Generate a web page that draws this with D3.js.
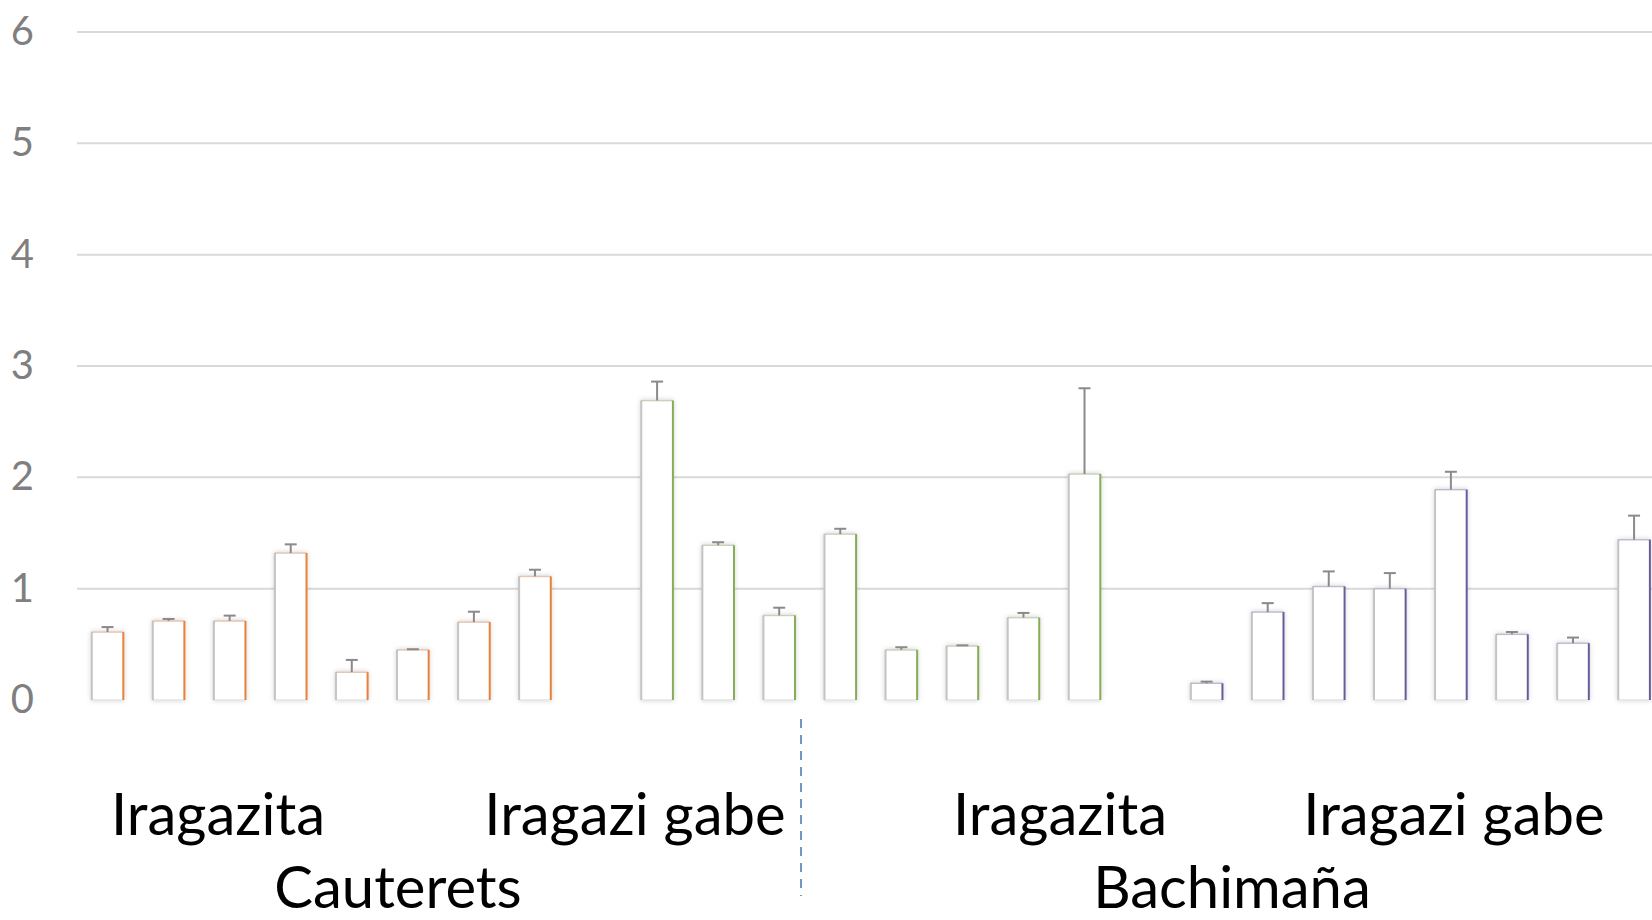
<!DOCTYPE html>
<html>
<head>
<meta charset="utf-8">
<script src="https://cdn.jsdelivr.net/npm/d3@7"></script>
<style>
  html, body { margin: 0; padding: 0; background: #ffffff; }
  svg { display: block; }
</style>
</head>
<body>
<svg id="chart" width="1652" height="920"></svg>
<script>
// ---- data ----
const slots = ["O1","O2","O3","O4","O5","O6","O7","O8","gap1",
               "G1","G2","G3","G4","G5","G6","G7","G8","gap2",
               "P1","P2","P3","P4","P5","P6","P7","P8"];
const orangeCats = ["O1","O2","O3","O4","O5","O6","O7","O8"];
const orangeMeans = [0.61, 0.71, 0.71, 1.32, 0.25, 0.45, 0.70, 1.11];
const orangeErr   = [0.045, 0.018, 0.048, 0.078, 0.11, 0.006, 0.093, 0.06];
const greenCats = ["G1","G2","G3","G4","G5","G6","G7","G8"];
const greenMeans = [2.69, 1.39, 0.76, 1.49, 0.45, 0.485, 0.74, 2.03];
const greenErr   = [0.17, 0.027, 0.069, 0.048, 0.024, 0.006, 0.042, 0.77];
const purpleCats = ["P1","P2","P3","P4","P5","P6","P7","P8"];
const purpleMeans = [0.15, 0.79, 1.02, 1.00, 1.89, 0.59, 0.51, 1.44];
const purpleErr   = [0.015, 0.08, 0.135, 0.14, 0.16, 0.021, 0.051, 0.216];
const yTicks = [0, 1, 2, 3, 4, 5, 6];
const treatmentLabels = ["Iragazita", "Iragazi gabe", "Iragazita", "Iragazi gabe"];
const siteLabels = ["Cauterets", "Bachimaña"];

const seriesColors = { orange: "#e8823a", green: "#86ad55", purple: "#6a5c9b" };

// ---- layout ----
const svg = d3.select("#chart");
const x = d3.scaleBand().domain(slots).range([77, 1664.6]).paddingInner(0.482).paddingOuter(0.241);
const y = d3.scaleLinear().domain([0, 6]).range([700, 32]);

const defs = svg.append("defs");
const f = defs.append("filter").attr("id", "glow").attr("x", "-40%").attr("y", "-40%").attr("width", "180%").attr("height", "180%");
f.append("feDropShadow").attr("dx", 0).attr("dy", 0).attr("stdDeviation", 2.5)
  .attr("flood-color", "#000").attr("flood-opacity", 0.18);

// gridlines (1..6)
svg.append("g").selectAll("line").data(yTicks.filter(d => d > 0)).join("line")
  .attr("x1", 77).attr("x2", 1652)
  .attr("y1", d => y(d)).attr("y2", d => y(d))
  .attr("stroke", "#d9d9d9").attr("stroke-width", 2);

// y tick labels
svg.append("g").selectAll("text").data(yTicks).join("text")
  .attr("x", 34).attr("y", d => y(d) - 2)
  .attr("text-anchor", "end").attr("dominant-baseline", "central")
  .attr("font-family", "Lato, sans-serif").attr("font-size", 40)
  .attr("fill", "#7f7f7f").text(d => d);

// bars
const series = [
  { cats: orangeCats, means: orangeMeans, errs: orangeErr, color: seriesColors.orange },
  { cats: greenCats, means: greenMeans, errs: greenErr, color: seriesColors.green },
  { cats: purpleCats, means: purpleMeans, errs: purpleErr, color: seriesColors.purple }
];
const bw = x.bandwidth();
series.forEach(s => {
  const data = s.cats.map((c, i) => ({ c, m: s.means[i], e: s.errs[i] }));
  const g = svg.append("g");
  const bar = g.selectAll("g").data(data).join("g");
  bar.append("rect")
    .attr("x", d => x(d.c)).attr("y", d => y(d.m))
    .attr("width", bw).attr("height", d => y(0) - y(d.m))
    .attr("fill", "#ffffff").attr("stroke", "#e4e4e4").attr("stroke-width", 1.5)
    .attr("filter", "url(#glow)");
  // left edge (gray)
  bar.append("line")
    .attr("x1", d => x(d.c)).attr("x2", d => x(d.c))
    .attr("y1", d => y(d.m)).attr("y2", y(0))
    .attr("stroke", "#c4c4c4").attr("stroke-width", 2);
  // top edge (light colour)
  bar.append("line")
    .attr("x1", d => x(d.c)).attr("x2", d => x(d.c) + bw)
    .attr("y1", d => y(d.m)).attr("y2", d => y(d.m))
    .attr("stroke", s.color).attr("stroke-opacity", 0.3).attr("stroke-width", 1.5);
  // right edge (colour)
  bar.append("line")
    .attr("x1", d => x(d.c) + bw).attr("x2", d => x(d.c) + bw)
    .attr("y1", d => y(d.m)).attr("y2", y(0))
    .attr("stroke", s.color).attr("stroke-width", 2);
  // error bars
  const cx = d => x(d.c) + bw / 2;
  bar.append("line")
    .attr("x1", cx).attr("x2", cx)
    .attr("y1", d => y(d.m)).attr("y2", d => y(d.m + d.e))
    .attr("stroke", "#8a8a8a").attr("stroke-width", 2);
  bar.append("line")
    .attr("x1", d => cx(d) - 6).attr("x2", d => cx(d) + 6)
    .attr("y1", d => y(d.m + d.e)).attr("y2", d => y(d.m + d.e))
    .attr("stroke", "#8a8a8a").attr("stroke-width", 2);
});

// dashed separator
svg.append("line")
  .attr("x1", 801).attr("x2", 801).attr("y1", 719).attr("y2", 896)
  .attr("stroke", "#4a7ebf").attr("stroke-width", 1.6).attr("stroke-dasharray", "9,7");

// labels
const treatmentX = [218, 635, 1060, 1454];
svg.append("g").selectAll("text").data(treatmentLabels).join("text")
  .attr("x", (d, i) => treatmentX[i]).attr("y", 835)
  .attr("text-anchor", "middle")
  .attr("font-family", "Lato, sans-serif").attr("font-size", 58)
  .attr("fill", "#000").text(d => d);
const siteX = [398, 1232];
svg.append("g").selectAll("text").data(siteLabels).join("text")
  .attr("x", (d, i) => siteX[i]).attr("y", 908)
  .attr("text-anchor", "middle")
  .attr("font-family", "Lato, sans-serif").attr("font-size", 58)
  .attr("fill", "#000").text(d => d);
</script>
</body>
</html>
